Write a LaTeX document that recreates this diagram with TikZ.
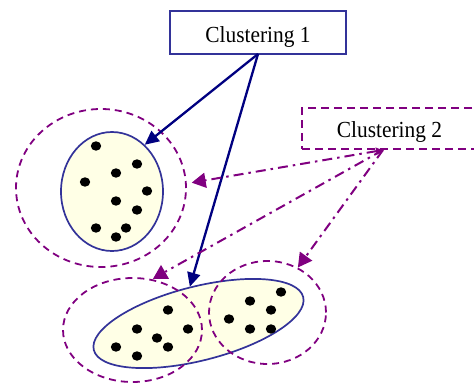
\documentclass[tikz,border=0pt]{standalone}
\usepackage{fontspec}
\setmainfont{Liberation Serif}
\usetikzlibrary{shapes.geometric,arrows.meta}
\definecolor{cblue}{HTML}{333399}
\definecolor{navyc}{HTML}{000080}
\definecolor{purp}{HTML}{800080}
\definecolor{cfill}{HTML}{FFFFE6}
\newcommand{\labtxt}[1]{\fontsize{23}{26}\selectfont\scalebox{0.93}[1]{#1}}
\begin{document}
\begin{tikzpicture}[x=1pt,y=-1pt,
  clus/.style={ellipse,draw=cblue,line width=1.7pt,fill=cfill,inner sep=0pt},
  dring/.style={ellipse,draw=purp,line width=1.8pt,dash pattern=on 7pt off 5pt,inner sep=0pt},
  bluearrow/.style={draw=navyc,line width=2.3pt,-{Triangle[length=14pt,width=13pt]}},
  ddarrow/.style={draw=purp,line width=2pt,dash pattern=on 10pt off 5pt on 2.5pt off 5pt},
  ptip/.style={regular polygon,regular polygon sides=3,fill=purp,inner sep=0pt,minimum size=18.5pt}
]
\useasboundingbox (0,0) rectangle (474,383);
\clip (0,0) rectangle (474,383);

% label boxes
\node[draw=cblue,line width=1.6pt,fill=white,minimum width=176pt,minimum height=43pt,inner sep=0pt,
      text height=22pt,text depth=3pt] (c1) at (258,32.5) {\labtxt{Clustering 1}};
\node[draw=purp,line width=1.8pt,dash pattern=on 8pt off 5pt,minimum width=188pt,minimum height=41pt,inner sep=0pt] (c2) at (396,128.5) {};
\node[anchor=base,inner sep=0pt] (c2t) at (389.5,137.5) {\labtxt{Clustering 2}};

% clusters
\node[clus,minimum width=102pt,minimum height=119pt] (lc) at (112,191.5) {};
\node[clus,minimum width=216pt,minimum height=74pt,rotate=14.2] (be) at (198.5,323.5) {};

% dashed rings
\node[dring,minimum width=170pt,minimum height=158pt] (ld) at (101,188) {};
\node[dring,minimum width=139pt,minimum height=104pt] (bl) at (132.5,330) {};
\node[dring,minimum width=117pt,minimum height=103pt] (rd) at (267.5,312.5) {};

% dots
\foreach \p in {(96,146),(137,164),(116,173),(85,182),(147,191),(116,201),(137,210),(96,228),(126,228),(116,237),
                (168,310),(137,329),(188,329),(157,338),(116,347),(168,347),(137,356),
                (281,292),(250,301),(271,310),(229,319),(250,329),(271,329)}
  \fill[black] \p ellipse (5.2pt and 4.7pt);

% connectors
\coordinate (s1) at (258,54);
\coordinate (s2) at (383,150);
\draw[bluearrow] (s1) -- (lc.55);
\draw[bluearrow] (s1) -- (be.89);

\node[ptip] (tri2) at (161,274.2) {};
\draw[ddarrow,{Triangle[length=7pt,width=7pt]}-{Triangle[length=14pt,width=15pt]},shorten >=5pt] (s2) -- (ld.3);
\draw[ddarrow] (s2) -- (tri2);
\draw[ddarrow,-{Triangle[length=14pt,width=15pt]}] (s2) -- (rd.56);
\end{tikzpicture}
\end{document}
